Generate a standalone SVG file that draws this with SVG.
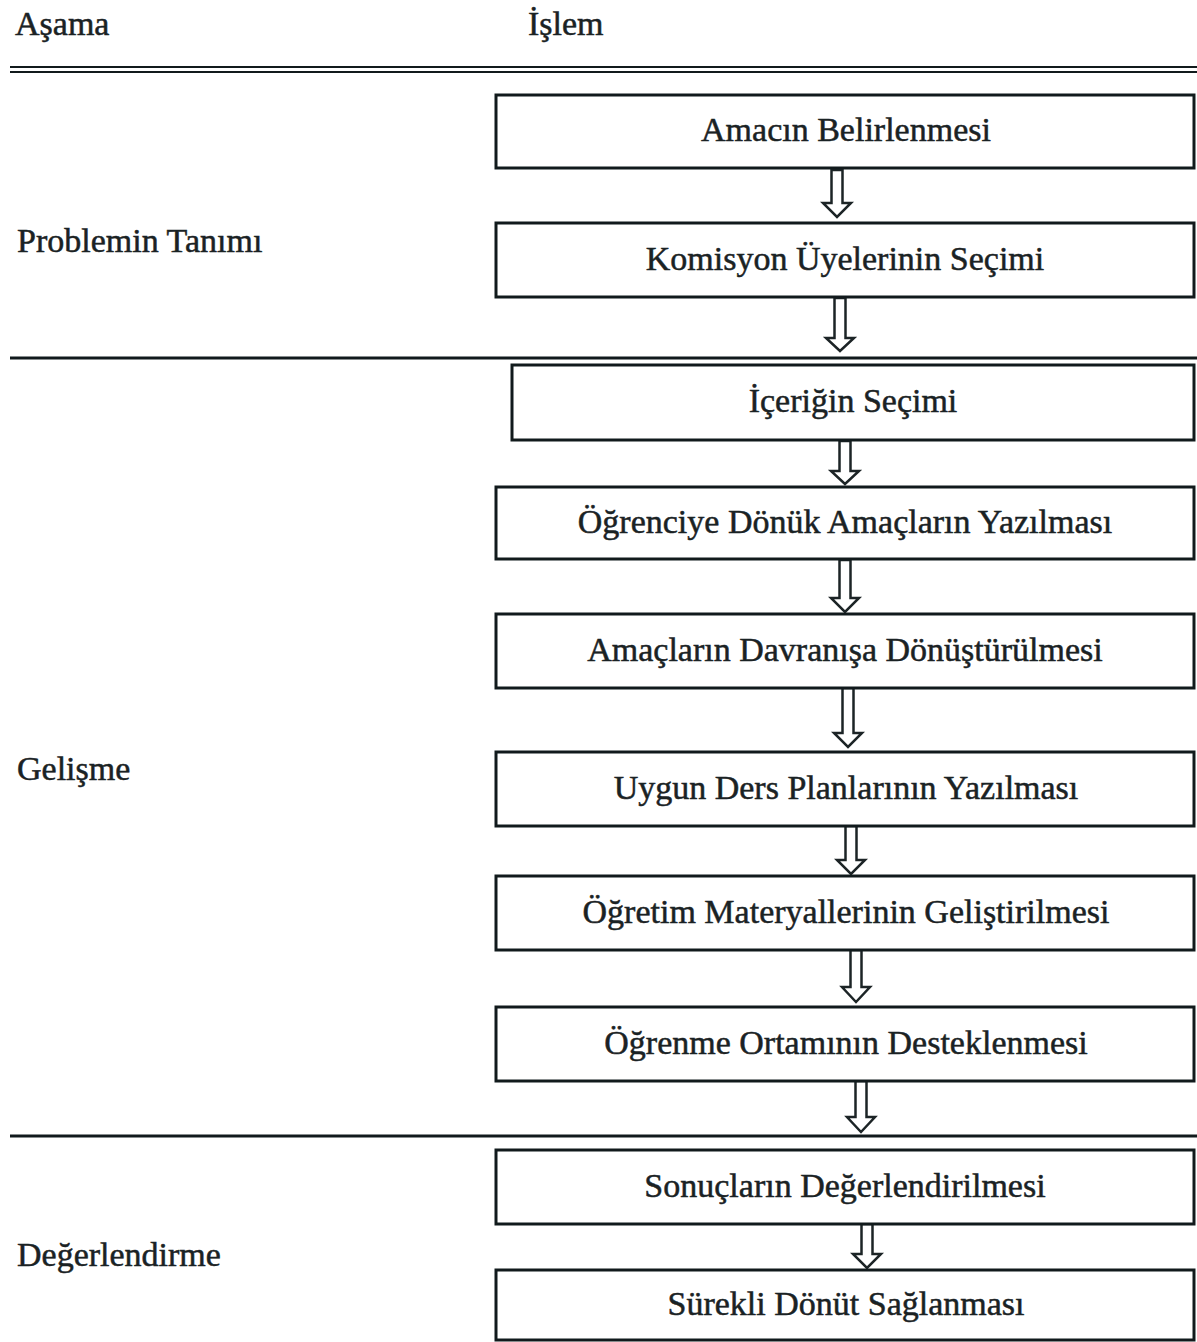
<svg xmlns="http://www.w3.org/2000/svg" width="1197" height="1342" viewBox="0 0 1197 1342">
  <style>
    .bg { fill: #ffffff; }
    .rule { stroke: #111a1c; stroke-width: 3; fill: none; }
    .rule-thin { stroke: #111a1c; stroke-width: 2.2; fill: none; }
    .box { fill: #ffffff; stroke: #111a1c; stroke-width: 3; }
    .arrow { fill: #ffffff; stroke: #1c2426; stroke-width: 2.5; stroke-linejoin: miter; }
    .txt { font-family: "Liberation Serif", "Times New Roman", serif; font-size: 34px; fill: #1a2224; stroke: #1a2224; stroke-width: 0.5; }
    .mid { text-anchor: middle; }
  </style>

  <rect class="bg" x="0" y="0" width="1197" height="1342" />

  <!-- column headings -->
  <g id="headings">
    <text class="txt" x="15" y="35">Aşama</text>
    <text class="txt" x="528" y="35">İşlem</text>
  </g>

  <!-- horizontal rules -->
  <g id="rules">
    <line class="rule-thin" x1="10" y1="67" x2="1197" y2="67" />
    <line class="rule-thin" x1="10" y1="72" x2="1197" y2="72" />
    <line class="rule" x1="10" y1="358" x2="1197" y2="358" />
    <line class="rule" x1="10" y1="1136" x2="1197" y2="1136" />
  </g>

  <!-- phase labels -->
  <g id="phases">
    <text class="txt" x="17" y="252">Problemin Tanımı</text>
    <text class="txt" x="17" y="780">Gelişme</text>
    <text class="txt" x="17" y="1266">Değerlendirme</text>
  </g>

  <!-- connectors: hollow downward block arrows -->
  <g id="connectors">
    <path class="arrow" d="M831.5,170 H842.5 V203 H851 L837,217 L823,203 H831.5 Z" />
    <path class="arrow" d="M834.5,298 H845.5 V338 H854 L840,351 L826,338 H834.5 Z" />
    <path class="arrow" d="M839.5,441 H850.5 V471 H859 L845,484 L831,471 H839.5 Z" />
    <path class="arrow" d="M839.5,560 H850.5 V598 H859 L845,612 L831,598 H839.5 Z" />
    <path class="arrow" d="M842.5,688 H853.5 V733 H862 L848,747 L834,733 H842.5 Z" />
    <path class="arrow" d="M845.5,826 H856.5 V860 H865 L851,874 L837,860 H845.5 Z" />
    <path class="arrow" d="M850.5,950 H861.5 V987 H870 L856,1002 L842,987 H850.5 Z" />
    <path class="arrow" d="M855.5,1081 H866.5 V1117 H875 L861,1132 L847,1117 H855.5 Z" />
    <path class="arrow" d="M861.5,1224 H872.5 V1254 H881 L867,1268 L853,1254 H861.5 Z" />
  </g>

  <!-- process steps -->
  <g id="step-amac">
    <rect class="box" x="496" y="95" width="698" height="73" />
    <text class="txt mid" x="846" y="141">Amacın Belirlenmesi</text>
  </g>
  <g id="step-komisyon">
    <rect class="box" x="496" y="223" width="698" height="74" />
    <text class="txt mid" x="845" y="270">Komisyon Üyelerinin Seçimi</text>
  </g>
  <g id="step-icerik">
    <rect class="box" x="512" y="365" width="682" height="75" />
    <text class="txt mid" x="853" y="412">İçeriğin Seçimi</text>
  </g>
  <g id="step-ogrenciye">
    <rect class="box" x="496" y="487" width="698" height="72" />
    <text class="txt mid" x="845" y="533">Öğrenciye Dönük Amaçların Yazılması</text>
  </g>
  <g id="step-davranis">
    <rect class="box" x="496" y="614" width="698" height="74" />
    <text class="txt mid" x="845" y="661">Amaçların Davranışa Dönüştürülmesi</text>
  </g>
  <g id="step-ders-plan">
    <rect class="box" x="496" y="752" width="698" height="74" />
    <text class="txt mid" x="846" y="799">Uygun Ders Planlarının Yazılması</text>
  </g>
  <g id="step-materyal">
    <rect class="box" x="496" y="876" width="698" height="74" />
    <text class="txt mid" x="846" y="923">Öğretim Materyallerinin Geliştirilmesi</text>
  </g>
  <g id="step-ortam">
    <rect class="box" x="496" y="1007" width="698" height="74" />
    <text class="txt mid" x="846" y="1054">Öğrenme Ortamının Desteklenmesi</text>
  </g>
  <g id="step-sonuc">
    <rect class="box" x="496" y="1150" width="698" height="74" />
    <text class="txt mid" x="845" y="1197">Sonuçların Değerlendirilmesi</text>
  </g>
  <g id="step-donut">
    <rect class="box" x="496" y="1270" width="698" height="70" />
    <text class="txt mid" x="846" y="1315">Sürekli Dönüt Sağlanması</text>
  </g>
</svg>
